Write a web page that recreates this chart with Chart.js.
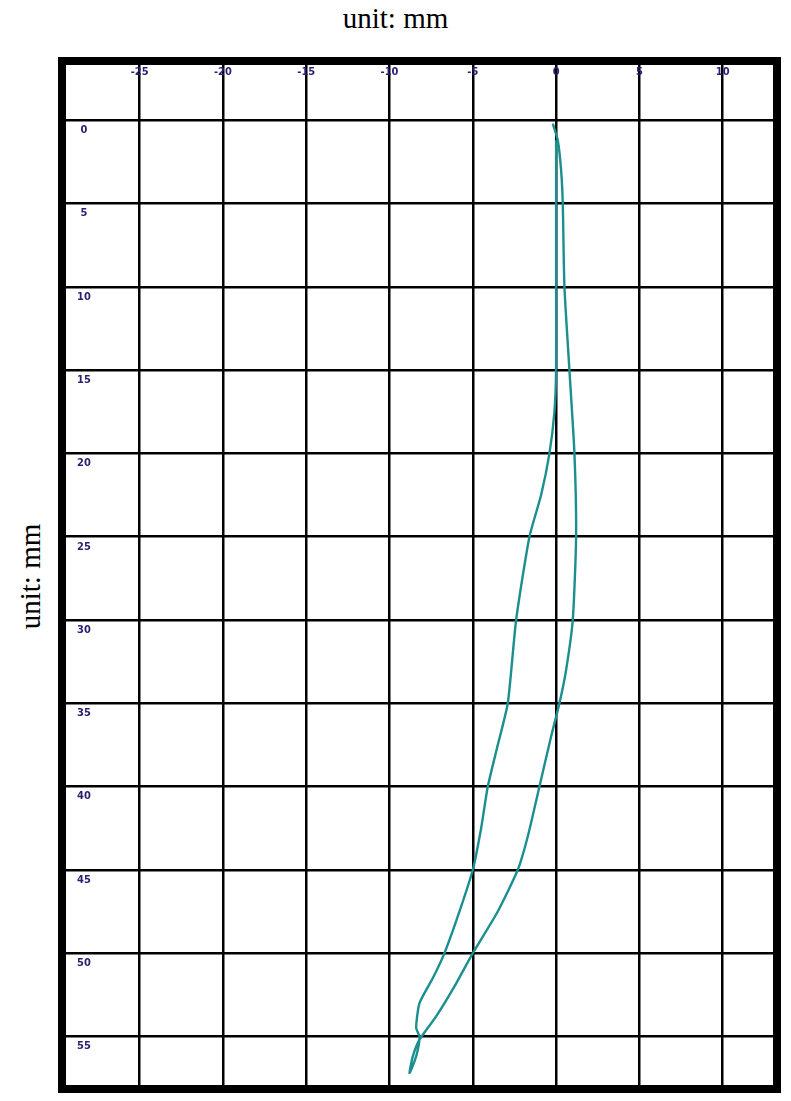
<!DOCTYPE html>
<html><head><meta charset="utf-8">
<script src="https://cdn.jsdelivr.net/npm/chart.js@4/dist/chart.umd.min.js"></script>
<style>
body{margin:0;background:#fff;width:791px;height:1101px;position:relative;overflow:hidden}
#t{position:absolute;top:2px;left:0;width:791px;text-align:center;font:29px "Liberation Serif",serif;color:#000}
#l{position:absolute;left:-40px;top:560px;width:140px;text-align:center;font:29px "Liberation Serif",serif;transform:rotate(-90deg);transform-origin:center}
#w{position:absolute;left:58px;top:57px;width:723px;height:1036px}
</style></head><body>
<div id="t">unit: mm</div><div id="l">unit: mm</div>
<div id="w"><canvas id="c"></canvas></div>
<script>
const xTicks=[-25,-20,-15,-10,-5,0,5,10];
const yTicks=[0,5,10,15,20,25,30,35,40,45,50,55];
// displacement (mm) along loop
const dispX=[-0.2,0.1,0.3,0.4,0.5,0.8,1.1,1.2,1.0,0.6,0.2,-0.3,-1.0,-1.7,-2.3,-3.5,-5.0,-6.1,-7.2,-8.2,-8.6,-8.8,-8.5,-8.3,-8.2,-8.4,-8.2,-7.4,-6.7,-5.8,-5.0,-4.5,-4.1,-3.5,-2.9,-2.4,-1.6,-0.9,-0.4,-0.1,0.0,0.0,0.0,0.0];
const depthY=[0.2,1.2,3,5,10,15,20,25,30,33,35,37,40,43,45,47.5,50,52,53.8,55.2,56.2,57.2,56.5,55.8,55,54.5,53,51.5,50,47.5,45,42.5,40,37.5,35,30,25,22.5,20,17.5,15,10,5,1.2];
const pts=dispX.map((x,i)=>({x:x,y:depthY[i]}));
const deco={id:'deco',afterDraw(ch){
 const c=ch.ctx,a=ch.chartArea,sx=ch.scales.x,sy=ch.scales.y;
 c.save();c.fillStyle='#2b1d70';c.font='bold 11px "DejaVu Sans Condensed",sans-serif';
 c.textAlign='center';c.textBaseline='middle';
 xTicks.forEach(v=>c.fillText(String(v),sx.getPixelForValue(v),15));
 yTicks.forEach(v=>c.fillText(String(v),26,sy.getPixelForValue(v)+10));
 c.strokeStyle='#000';c.lineWidth=8;c.strokeRect(a.left+4,a.top+4,a.right-a.left-8,a.bottom-a.top-8);
 c.restore();}};
new Chart(document.getElementById('c'),{type:'scatter',
 data:{datasets:[{data:pts,showLine:true,borderColor:'#1b8f8f',borderWidth:2.4,pointRadius:0,tension:0.2,fill:false}]},
 options:{responsive:true,maintainAspectRatio:false,animation:false,layout:{padding:0},
  plugins:{legend:{display:false},tooltip:{enabled:false}},
  scales:{
   x:{type:'linear',min:-29.9,max:13.5,position:'top',
     afterBuildTicks(s){s.ticks=xTicks.map(v=>({value:v}));},
     ticks:{display:false},border:{display:false},grid:{color:'#000',lineWidth:2.5,drawTicks:false}},
   y:{type:'linear',min:-3.8,max:58.4,reverse:true,
     afterBuildTicks(s){s.ticks=yTicks.map(v=>({value:v}));},
     ticks:{display:false},border:{display:false},grid:{color:'#000',lineWidth:2.5,drawTicks:false}}
  }},plugins:[deco]});
</script></body></html>
